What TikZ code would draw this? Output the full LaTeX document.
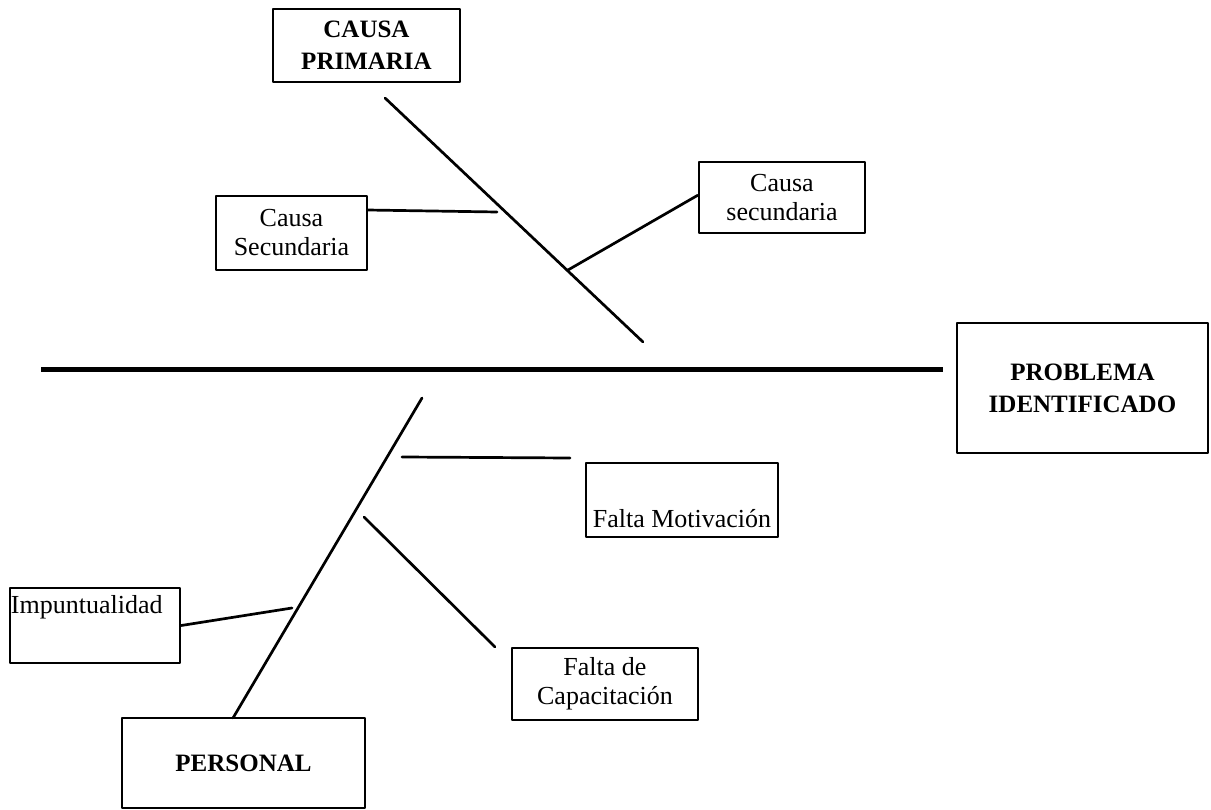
\documentclass[tikz,border=0pt]{standalone}
\usepackage{fontspec}
\setmainfont{Liberation Serif}
\usetikzlibrary{calc}

\begin{document}
\begin{tikzpicture}[line cap=round,line join=round,x=1pt,y=-1pt,
  caja/.style={draw,line width=2.6pt,line cap=rect,inner sep=0pt,align=center,
    font=\fontsize{26}{29}\selectfont},
  cajab/.style={caja,font=\fontsize{25}{32}\selectfont\bfseries},
  espina/.style={line width=2.7pt},
  eje/.style={line width=5pt,line cap=butt}]
\useasboundingbox (0,0) rectangle (1211,810);
% cajas
\node[cajab,minimum width=187,minimum height=73] (prim) at (366.5,45.5) {CAUSA\\PRIMARIA};
\node[caja,minimum width=151,minimum height=74] (sec1) at (291.5,233) {Causa\\Secundaria};
\node[caja,minimum width=166,minimum height=71] (sec2) at (782,197.5) {Causa\\secundaria};
\node[cajab,minimum width=251,minimum height=130] (prob) at (1082.5,388) {PROBLEMA\\IDENTIFICADO};
\node[caja,minimum width=192,minimum height=74,
  label={[anchor=south,inner sep=0pt,yshift=10pt,font=\fontsize{26}{29}\selectfont]south:Falta Motivación}] (motiv) at (682,500) {};
\node[caja,minimum width=186,minimum height=72] (capac) at (605,684) {Falta de\\Capacitación};
\node[caja,minimum width=170,minimum height=75,
  label={[anchor=north west,inner sep=2pt,yshift=-7pt,font=\fontsize{26}{29}\selectfont]north west:Impuntualidad}] (impun) at (95,625.5) {};
\node[cajab,minimum width=243,minimum height=90] (pers) at (243.5,763) {PERSONAL};
% espinas
\coordinate (e1) at (41,370);
\coordinate (e2) at (943,370);
\coordinate (b1) at (385,98);
\coordinate (b2) at (643,342);
\coordinate (b3) at (422,398);
\coordinate (b4) at (233,718);
\coordinate (r1) at (497,212);
\coordinate (r2) at (568,270);
\coordinate (r3a) at (402,457);
\coordinate (r3b) at (570,458);
\coordinate (r4a) at (364,517);
\coordinate (r4b) at (495,647);
\coordinate (r5) at (292,608);
\draw[eje] (e1) -- (e2);
\draw[espina] (b1) -- (b2);
\draw[espina] (b3) -- (b4);
\draw[espina] ($(sec1.north east)!0.2!(sec1.south east)$) -- (r1);
\draw[espina] (r2) -- ($(sec2.north west)!0.47!(sec2.south west)$);
\draw[espina] (r3a) -- (r3b);
\draw[espina] (r4a) -- (r4b);
\draw[espina] ($(impun.north east)!0.5!(impun.south east)$) -- (r5);
\end{tikzpicture}
\end{document}
